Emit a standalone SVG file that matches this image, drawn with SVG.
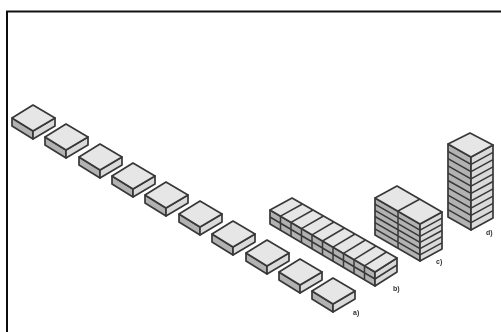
<svg xmlns="http://www.w3.org/2000/svg" width="501" height="332" viewBox="0 0 501 332">
<defs>
<filter id="soft" x="-5%" y="-5%" width="110%" height="110%"><feGaussianBlur stdDeviation="0.7"/></filter>
<filter id="softer" x="-5%" y="-5%" width="110%" height="110%"><feGaussianBlur stdDeviation="0.3"/></filter>
<g id="tile">
<path class="left" d="M0 0L21 13V21L0 8Z"/>
<path class="right" d="M21 13L43 0V8L21 21Z"/>
<path class="top" d="M0 0L21-13L43 0L21 13Z"/>
</g>
</defs>
<style>
.top{fill:#e6e6e6;stroke:#383838;stroke-width:1.7;stroke-linejoin:round}
.left{fill:#b2b2b2;stroke:#383838;stroke-width:1.7;stroke-linejoin:round}
.right{fill:#dadada;stroke:#383838;stroke-width:1.7;stroke-linejoin:round}
.ln{fill:none;stroke:#383838;stroke-width:1.5}
.lab{font-family:"Liberation Sans",Arial,sans-serif;font-size:7px;font-weight:bold;fill:#333}
</style>
<rect width="501" height="332" fill="#fff"/>
<path id="frame" d="M7 332V11.500H501" fill="none" stroke="#111" stroke-width="2" filter="url(#softer)"/>
<g filter="url(#soft)">
<g id="a-stack">
<use href="#tile" x="12" y="118"/>
<use href="#tile" x="45" y="137"/>
<use href="#tile" x="79" y="157"/>
<use href="#tile" x="112" y="176"/>
<use href="#tile" x="145" y="195"/>
<use href="#tile" x="179" y="214"/>
<use href="#tile" x="212" y="234"/>
<use href="#tile" x="246" y="253"/>
<use href="#tile" x="279" y="272"/>
<use href="#tile" x="312" y="291"/>
</g>
<g id="b-stack">
<path class="left" d="M270 210L375 272V286L270 224Z"/>
<path class="right" d="M375 272L397 258V272L375 286Z"/>
<path class="top" d="M270 210L292 198L397 258L375 272Z"/>
<path class="ln" d="M270 217L375 279L397 265M280.500 216.200L302.500 204M291 222.400L313 210M301.500 228.600L323.500 216M312 234.800L334 222M322.500 241L344.500 228M333 247.200L355 234M343.500 253.400L365.500 240M354 259.600L376 246M364.500 265.800L386.500 252M280.500 216.200V230.200M291 222.400V236.400M301.500 228.600V242.600M312 234.800V248.800M322.500 241V255M333 247.200V261.200M343.500 253.400V267.400M354 259.600V273.600M364.500 265.800V279.800"/>
</g>
<g id="c-stack">
<path class="left" d="M375 198L420 224V261L375 235Z"/>
<path class="right" d="M420 224L442 212V249L420 261Z"/>
<path class="top" d="M375 198L397 186L442 212L420 224Z"/>
<path class="ln" d="M398 211L420 199M398 211V248M375 204.200L420 230.200L442 218.200M375 210.300L420 236.300L442 224.300M375 216.500L420 242.500L442 230.500M375 222.700L420 248.700L442 236.700M375 228.800L420 254.800L442 242.800"/>
</g>
<g id="d-stack">
<path class="left" d="M448 144L471 157V230L448 217Z"/>
<path class="right" d="M471 157L493 145V218L471 230Z"/>
<path class="top" d="M448 144L470 133L493 145L471 157Z"/>
<path class="ln" d="M448 151.300L471 164.300L493 152.300M448 158.600L471 171.600L493 159.600M448 165.900L471 178.900L493 166.900M448 173.200L471 186.200L493 174.200M448 180.500L471 193.500L493 181.500M448 187.800L471 200.800L493 188.800M448 195.100L471 208.100L493 196.100M448 202.400L471 215.400L493 203.400M448 209.700L471 222.700L493 210.700"/>
</g>
<text class="lab" x="353" y="315">a)</text>
<text class="lab" x="393" y="291">b)</text>
<text class="lab" x="436" y="264">c)</text>
<text class="lab" x="486" y="235">d)</text>
</g>
</svg>
